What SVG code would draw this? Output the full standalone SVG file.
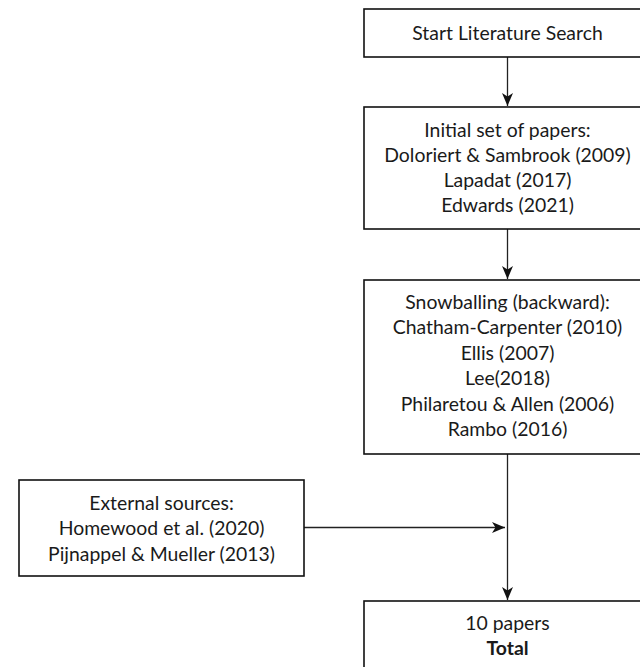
<svg xmlns="http://www.w3.org/2000/svg" width="640" height="667" viewBox="0 0 640 667">
<style>
  .box{fill:#fff;stroke:#111;stroke-width:1.6}
  .t{font-family:Lato,"Noto Sans","Liberation Sans",sans-serif;font-size:19.4px;fill:#1a1a1a;text-anchor:middle}
  .b{font-weight:bold}
  .edge{fill:none;stroke:#222;stroke-width:1.3}
</style>
<defs>
  <marker id="ah" markerWidth="14" markerHeight="14" refX="13" refY="6" orient="auto" markerUnits="userSpaceOnUse">
    <path d="M0,0.5 L13,6 L0,11.5 L3.5,6 Z" fill="#111"/>
  </marker>
</defs>
<rect width="640" height="667" fill="#fff"/>
<g id="connectors">
  <line class="edge" x1="507.5" y1="57" x2="507.5" y2="106" marker-end="url(#ah)"/>
  <line class="edge" x1="507.5" y1="229" x2="507.5" y2="279" marker-end="url(#ah)"/>
  <line class="edge" x1="507.5" y1="454" x2="507.5" y2="600" marker-end="url(#ah)"/>
  <line class="edge" x1="304" y1="527.5" x2="505" y2="527.5" marker-end="url(#ah)"/>
</g>
<g id="start">
  <rect class="box" x="364" y="9" width="287" height="48"/>
  <text class="t" x="507.5" y="39.5">Start Literature Search</text>
</g>
<g id="initial">
  <rect class="box" x="364" y="107" width="287" height="122"/>
  <text class="t" x="507.5" y="137">Initial set of papers:</text>
  <text class="t" x="507.5" y="162">Doloriert &amp; Sambrook (2009)</text>
  <text class="t" x="507.5" y="187">Lapadat (2017)</text>
  <text class="t" x="507.5" y="212">Edwards (2021)</text>
</g>
<g id="snowballing">
  <rect class="box" x="364" y="280" width="287" height="174"/>
  <text class="t" x="507.5" y="308.5">Snowballing (backward):</text>
  <text class="t" x="507.5" y="334">Chatham-Carpenter (2010)</text>
  <text class="t" x="507.5" y="359.5">Ellis (2007)</text>
  <text class="t" x="507.5" y="385">Lee(2018)</text>
  <text class="t" x="507.5" y="410.5">Philaretou &amp; Allen (2006)</text>
  <text class="t" x="507.5" y="436">Rambo (2016)</text>
</g>
<g id="external">
  <rect class="box" x="19" y="480" width="285" height="96"/>
  <text class="t" x="161.5" y="509.5">External sources:</text>
  <text class="t" x="161.5" y="535">Homewood et al. (2020)</text>
  <text class="t" x="161.5" y="560.5">Pijnappel &amp; Mueller (2013)</text>
</g>
<g id="total">
  <rect class="box" x="364" y="601" width="287" height="80"/>
  <text class="t" x="507.5" y="629.5">10 papers</text>
  <text class="t b" x="507.5" y="654.5">Total</text>
</g>
</svg>
